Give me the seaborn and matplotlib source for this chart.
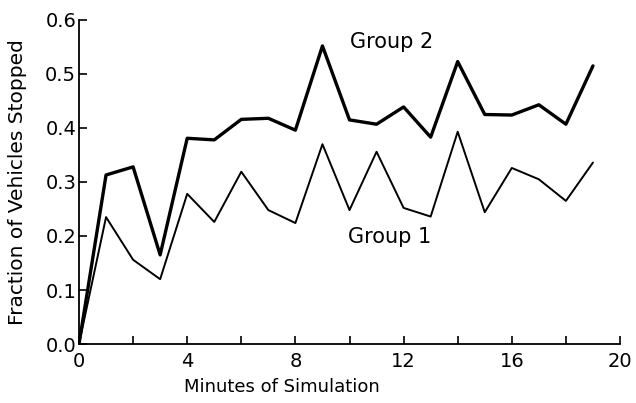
import matplotlib
matplotlib.use("Agg")
import matplotlib.pyplot as plt
import seaborn as sns
import pandas as pd
import numpy as np

minutes = list(range(0, 20))
group2 = [0.0, 0.313, 0.328, 0.165, 0.381, 0.378, 0.416, 0.418, 0.396, 0.552,
          0.415, 0.407, 0.439, 0.383, 0.523, 0.425, 0.424, 0.443, 0.407, 0.515]
group1 = [0.0, 0.235, 0.156, 0.120, 0.278, 0.226, 0.319, 0.248, 0.224, 0.370,
          0.248, 0.356, 0.252, 0.236, 0.393, 0.244, 0.326, 0.305, 0.265, 0.336]
series_names = ["Group 1", "Group 2"]
x_ticks = list(range(0, 21, 2))
x_tick_labels = [str(t) if t % 4 == 0 else "" for t in x_ticks]
y_ticks = [0.0, 0.1, 0.2, 0.3, 0.4, 0.5, 0.6]
y_tick_labels = ["0.0", "0.1", "0.2", "0.3", "0.4", "0.5", "0.6"]

df = pd.DataFrame({
    "Minutes": minutes * 2,
    "Fraction": group1 + group2,
    "Group": [series_names[0]] * len(minutes) + [series_names[1]] * len(minutes),
})

sns.set_style("ticks")
plt.rcParams["font.family"] = ["DejaVu Sans"]
plt.rcParams["text.color"] = "black"
plt.rcParams["axes.labelcolor"] = "black"
plt.rcParams["xtick.color"] = "black"
plt.rcParams["ytick.color"] = "black"

fig = plt.figure(figsize=(6.36, 4.03), dpi=100)
ax = fig.add_axes([79 / 636, 1 - 344 / 403, (620 - 79) / 636, (344 - 20) / 403])

sns.lineplot(data=df, x="Minutes", y="Fraction", hue="Group", size="Group",
             sizes={"Group 1": 1.4, "Group 2": 2.4},
             palette={"Group 1": "black", "Group 2": "black"},
             legend=False, ax=ax)

ax.set_xlim(0, 20)
ax.set_ylim(0, 0.6)
ax.set_xticks(x_ticks)
ax.set_xticklabels(x_tick_labels)
ax.set_yticks(y_ticks)
ax.set_yticklabels(y_tick_labels)
ax.tick_params(direction="in", length=6, width=1.2, labelsize=14,
               color="black", labelcolor="black")
ax.tick_params(axis="x", pad=6)
ax.tick_params(axis="y", pad=2)

for side in ["top", "right"]:
    ax.spines[side].set_visible(False)
for side in ["left", "bottom"]:
    ax.spines[side].set_linewidth(1.3)
    ax.spines[side].set_color("black")

ax.set_xlabel("Minutes of Simulation", fontsize=13, color="black")
ax.set_ylabel("Fraction of Vehicles Stopped", fontsize=14.5, color="black")
ax.xaxis.set_label_coords((282 - 79) / (620 - 79), -0.105)
ax.yaxis.set_label_coords((27 - 79) / (620 - 79), 0.5)

ax.text(10.0, 0.559, "Group 2", fontsize=15, va="center", ha="left", color="black")
ax.text(9.95, 0.198, "Group 1", fontsize=15, va="center", ha="left", color="black")

fig.savefig("out.png", dpi=100, facecolor="white")
